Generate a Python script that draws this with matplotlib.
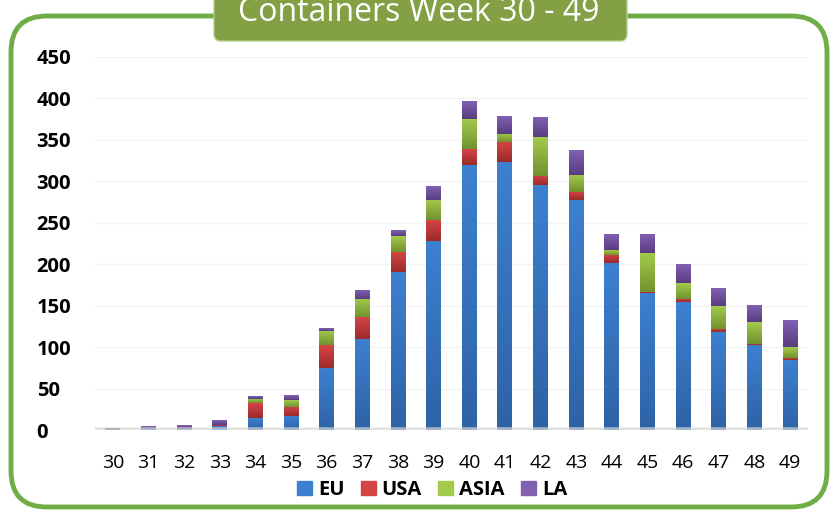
import matplotlib.pyplot as plt
import numpy as np
from matplotlib.patches import FancyBboxPatch, Patch
from matplotlib.colors import LinearSegmentedColormap

weeks = ['30', '31', '32', '33', '34', '35', '36', '37', '38', '39',
         '40', '41', '42', '43', '44', '45', '46', '47', '48', '49']
eu = [0, 1, 1, 5, 14, 17, 75, 110, 191, 228, 320, 323, 295, 277, 201, 165, 154, 118, 102, 84]
usa = [0, 0, 0, 1, 18, 11, 27, 26, 24, 25, 19, 24, 11, 10, 10, 2, 4, 4, 2, 3]
asia = [0, 0, 0, 0, 5, 8, 17, 22, 19, 25, 36, 10, 47, 21, 6, 47, 19, 27, 26, 13]
la = [2, 3, 4, 6, 3, 6, 3, 10, 7, 16, 21, 21, 24, 29, 19, 22, 22, 21, 20, 32]
series = ['EU', 'USA', 'ASIA', 'LA']

# (top colour, bottom colour) for the gradient fills
cols = {'EU': ('#3d80d0', '#2e63a6'),
        'USA': ('#d44444', '#9c2b2b'),
        'ASIA': ('#a2ca4c', '#71922e'),
        'LA': ('#8160b2', '#5a3d80')}

W, H = 831, 511
fig = plt.figure(figsize=(W / 100, H / 100), dpi=100)
plt.rcParams['font.family'] = ['Open Sans', 'DejaVu Sans']

# frame + title box drawn in pixel coordinates
bg = fig.add_axes([0, 0, 1, 1])
bg.set_xlim(0, W)
bg.set_ylim(H, 0)
bg.axis('off')
bg.add_patch(FancyBboxPatch((11, 16), 816, 491, boxstyle='round,pad=0,rounding_size=36',
                            fc='white', ec='#70ad47', lw=3.5))
bg.add_patch(FancyBboxPatch((214, -20), 413, 61, boxstyle='round,pad=0,rounding_size=7',
                            fc='#84a044', ec='#b5cf8a', lw=1))
bg.text(419, 21, 'Containers Week 30 - 49', color='white', fontsize=23,
        ha='center', va='baseline')

ax = fig.add_axes([95 / W, (H - 430) / H, (808 - 95) / W, (430 - 57) / H])
x = np.arange(len(weeks))
bottom = np.zeros(len(weeks))
data = {'EU': eu, 'USA': usa, 'ASIA': asia, 'LA': la}
grad = np.linspace(0, 1, 64).reshape(-1, 1)
for s in series:
    vals = np.array(data[s], dtype=float)
    bars = ax.bar(x, vals, 0.42, bottom=bottom, color=cols[s][0], zorder=2)
    cm = LinearSegmentedColormap.from_list(s, [cols[s][1], cols[s][0]])
    for r in bars:
        if r.get_height() <= 0:
            continue
        x0, y0 = r.get_x(), r.get_y()
        ax.imshow(grad, extent=[x0, x0 + r.get_width(), y0, y0 + r.get_height()],
                  origin='lower', aspect='auto', cmap=cm, zorder=3)
    bottom += vals

ax.axhline(0, color='#d9d9d9', lw=4, alpha=0.7, zorder=4)
ax.set_xlim(-0.5, len(weeks) - 0.5)
ax.set_ylim(0, 450)
ax.set_yticks(range(0, 451, 50))
ax.set_xticks(x)
ax.set_xticklabels(weeks, fontsize=14)
ax.grid(axis='y', color='#f2f2f2', lw=1, zorder=0)
ax.set_axisbelow(True)
for sp in ax.spines.values():
    sp.set_visible(False)
ax.tick_params(length=0)
ax.tick_params(axis='x', pad=17)
ax.tick_params(axis='y', pad=42)
for t in ax.get_yticklabels():
    t.set_fontweight('bold')
    t.set_fontsize(14.5)
    t.set_ha('left')

handles = [Patch(color=cols[s][0]) for s in series]
leg = fig.legend(handles, series, loc='center', bbox_to_anchor=(432 / W, (H - 490) / H),
                 ncol=4, frameon=False, handlelength=0.75, handleheight=0.75,
                 handletextpad=0.3, columnspacing=0.8,
                 prop={'weight': 'bold', 'size': 14.5})

fig.savefig('out.png', dpi=100)
